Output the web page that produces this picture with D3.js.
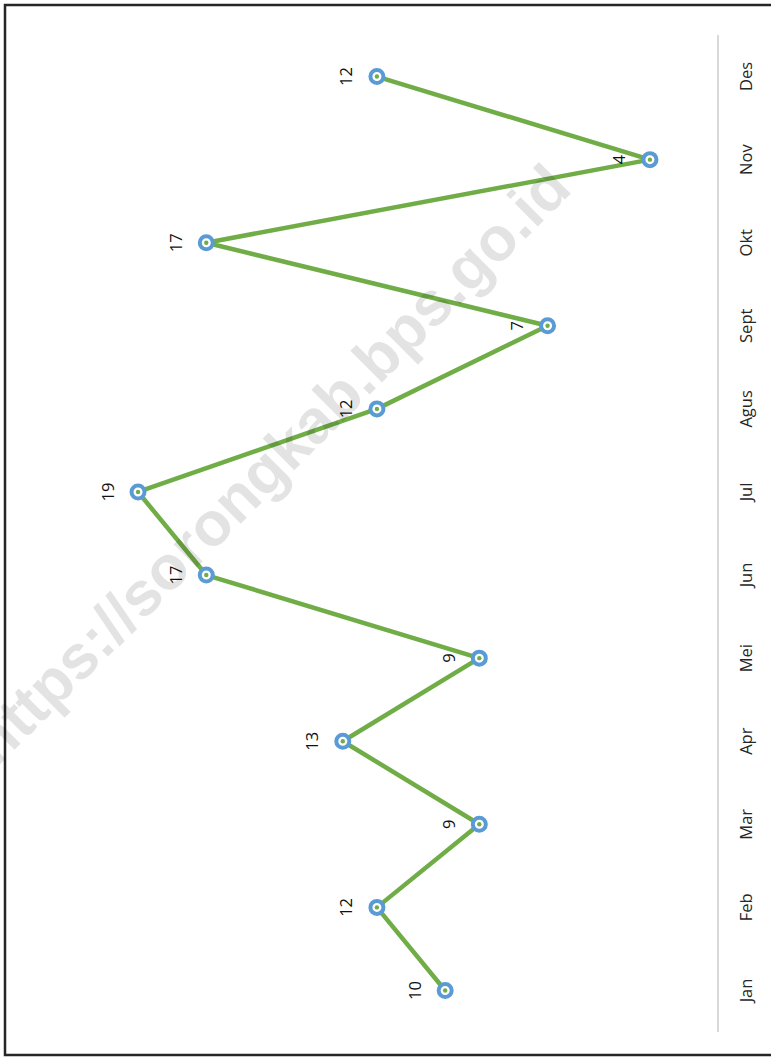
<!DOCTYPE html>
<html><head><meta charset="utf-8">
<script src="https://cdn.jsdelivr.net/npm/d3@7"></script>
<style>html,body{margin:0;padding:0;background:#fff;}svg{display:block;}</style>
</head><body>
<script>
const months = ["Jan","Feb","Mar","Apr","Mei","Jun","Jul","Agus","Sept","Okt","Nov","Des"];
const values = [10,12,9,13,9,17,19,12,7,17,4,12];
const valueDomain = [2,20];
const watermark = "https://sorongkab.bps.go.id";

const W = 771, H = 1059;
const svg = d3.select("body").append("svg").attr("width", W).attr("height", H);

// frame
svg.append("rect").attr("x",5).attr("y",5).attr("width",820).attr("height",1050)
  .attr("fill","none").attr("stroke","#262626").attr("stroke-width",2.5);

// rotated chart: categories on vertical axis (Jan bottom), values increasing to the left
const y = d3.scaleBand().domain(months).range([1032, 35]);
const x = d3.scaleLinear().domain(valueDomain).range([718.2, 103.9]);

const fontUI = "'Open Sans', 'Noto Sans', sans-serif";

// category axis
const axisG = svg.append("g").attr("transform","translate(718,0)");
const ax = d3.axisRight(y).tickSize(0).tickPadding(0);
axisG.call(ax);
axisG.select(".domain").attr("stroke","#d9d9d9").attr("stroke-width",2)
  .attr("d","M0,35V1032");
axisG.selectAll(".tick text").remove();
axisG.selectAll(".tick").append("text")
  .attr("transform","translate(27,0) rotate(-90)")
  .attr("text-anchor","middle").attr("dominant-baseline","central")
  .attr("fill","#262626").style("font-family",fontUI).style("font-size","16.5px")
  .text(d=>d);

const cy = d => y(d) + y.bandwidth()/2;
const pts = months.map((m,i)=>({m, v: values[i]}));

// line
svg.append("path").datum(pts)
  .attr("d", d3.line().x(d=>x(d.v)).y(d=>cy(d.m)))
  .attr("fill","none").attr("stroke","#70ad47").attr("stroke-width",4.5).attr("stroke-linejoin","round");

// markers
const mk = svg.append("g").selectAll("g").data(pts).join("g")
  .attr("transform", d=>`translate(${x(d.v)},${cy(d.m)})`);
mk.append("circle").attr("r",6.5).attr("fill","#fff").attr("stroke","#5b9bd5").attr("stroke-width",4);
mk.append("circle").attr("r",2.2).attr("fill","#70ad47");

// data labels
svg.append("g").selectAll("text").data(pts).join("text")
  .attr("transform", d=>`translate(${x(d.v)-31},${cy(d.m)}) rotate(-90)`)
  .attr("text-anchor","middle").attr("dominant-baseline","central")
  .attr("fill","#111").style("font-family",fontUI).style("font-size","16.5px")
  .text(d=>d.v);

// watermark
svg.append("text")
  .attr("transform","translate(270,464) rotate(-45)")
  .attr("text-anchor","middle").attr("dominant-baseline","central")
  .attr("fill","#000").attr("fill-opacity",0.11)
  .style("font-family","'Liberation Sans', Arial, sans-serif").style("font-weight","bold").style("font-size","62px")
  .text(watermark);
</script>
</body></html>
